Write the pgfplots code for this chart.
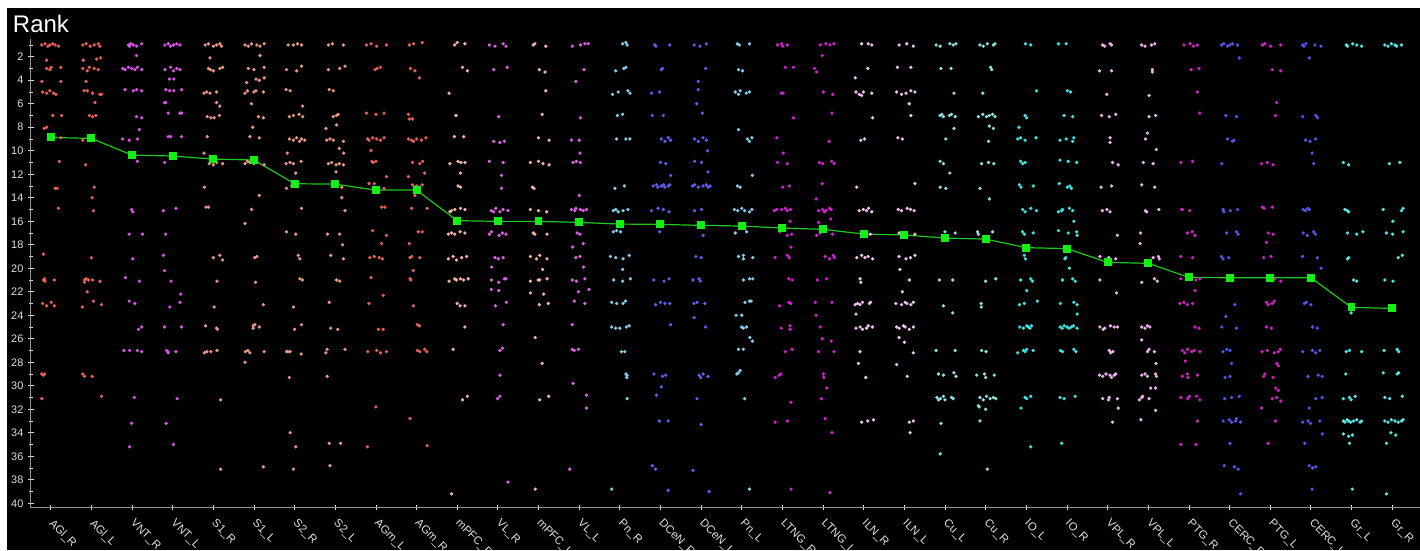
\documentclass[border=0pt]{standalone}
\usepackage{pgfplots}
\pgfplotsset{compat=1.18}
\usepackage{fontspec}
\setmainfont{Liberation Sans}

% region colours
\definecolor{cAGl}{RGB}{235,95,85}
\definecolor{cVNT}{RGB}{225,80,235}
\definecolor{cS}{RGB}{235,150,130}
\definecolor{cAGm}{RGB}{230,95,85}
\definecolor{cmPFC}{RGB}{245,180,165}
\definecolor{cVL}{RGB}{225,95,230}
\definecolor{cPn}{RGB}{130,205,235}
\definecolor{cDCeN}{RGB}{95,95,240}
\definecolor{cLTNG}{RGB}{215,30,215}
\definecolor{cILN}{RGB}{240,190,240}
\definecolor{cCu}{RGB}{140,225,225}
\definecolor{cIO}{RGB}{60,230,230}
\definecolor{cVPL}{RGB}{240,175,240}
\definecolor{cPTG}{RGB}{215,30,200}
\definecolor{cCERC}{RGB}{85,85,240}
\definecolor{cGr}{RGB}{80,230,230}
\definecolor{meanline}{RGB}{30,200,30}
\definecolor{meanmark}{RGB}{20,240,20}
\definecolor{axisgrey}{RGB}{150,150,150}
\definecolor{ticklab}{RGB}{225,225,225}

\pgfplotsset{dot/.style={only marks, mark=*, mark size=1.05pt, mark options={draw=none}}}

\begin{document}
\begin{tikzpicture}
\fill[white] (0,0) rectangle (1065pt,412.5pt);
\fill[black] (5.25pt,0) rectangle (1065pt,406.5pt);
\node[anchor=base west, inner sep=0pt, text=white, font=\fontsize{18}{20}\selectfont] at (9.5pt,388.3pt) {Rank};
\begin{axis}[
  at={(23.25pt,31.725pt)}, anchor=south west,
  scale only axis, width=1041.75pt, height=351.5pt,
  xmin=-0.485, xmax=33.685, ymin=0.494, ymax=40.38,
  y dir=reverse,
  axis x line*=bottom, axis y line*=left,
  axis line style={draw=axisgrey, line width=0.75pt, -},
  xtick={0,...,33},
  xticklabels={AGl\_R,AGl\_L,VNT\_R,VNT\_L,S1\_R,S1\_L,S2\_R,S2\_L,AGm\_L,AGm\_R,mPFC\_R,VL\_R,mPFC\_L,VL\_L,Pn\_R,DCeN\_R,DCeN\_L,Pn\_L,LTNG\_R,LTNG\_L,ILN\_R,ILN\_L,Cu\_L,Cu\_R,IO\_L,IO\_R,VPL\_R,VPL\_L,PTG\_R,CERC\_R,PTG\_L,CERC\_L,Gr\_L,Gr\_R},
  ytick={2,4,...,40}, minor ytick={1,3,...,39},
  tick align=center,
  major tick length=4pt, minor tick length=3pt,
  tick style={draw=ticklab, line width=0.6pt},
  xticklabel style={rotate=-45, anchor=north west, inner sep=0pt, yshift=-2pt, xshift=6pt,
    font=\fontsize{8.5}{10}\selectfont, text=ticklab},
  yticklabel style={anchor=east, inner sep=0pt, xshift=-3.5pt,
    font=\fontsize{8.2}{9}\selectfont, text=ticklab},
  /pgf/number format/assume math mode=true,
  clip=false,
]
% AGl_R
\addplot[dot, color=cAGl] coordinates {(-0.22,1.0)(-0.14,0.9)(-0.07,1.1)(-0.02,1.0)(0.05,0.9)(0.11,1.0)(0.19,1.1)(-0.10,2.3)(-0.10,3.0)(-0.02,3.1)(0.01,2.9)(0.25,2.9)(-0.22,4.1)(0.25,4.1)(-0.20,5.0)(-0.10,5.1)(-0.02,4.9)(0.07,5.1)(0.13,5.2)(0.05,7.0)(0.27,7.0)(-0.16,8.1)(-0.10,8.0)(0.25,8.9)(0.21,10.9)(0.11,13.2)(0.16,13.2)(0.19,14.9)(-0.18,18.8)(-0.18,21.0)(-0.15,20.9)(-0.14,21.1)(0.09,21.0)(-0.20,23.0)(-0.10,23.2)(0.01,22.9)(0.09,23.2)(-0.22,29.0)(-0.18,29.1)(-0.15,29.0)(-0.22,31.1)};
% AGl_L
\addplot[dot, color=cAGl] coordinates {(0.79,1.0)(0.87,0.9)(0.97,1.1)(1.07,1.0)(1.17,0.9)(1.21,1.1)(0.80,2.3)(1.13,2.2)(1.23,2.1)(0.79,3.0)(0.90,3.2)(0.95,2.9)(1.07,3.0)(1.17,3.1)(0.87,4.1)(0.82,4.9)(0.90,4.9)(1.03,5.1)(1.21,5.2)(1.25,5.2)(1.09,5.9)(0.95,7.0)(1.03,7.1)(1.11,7.0)(0.79,9.1)(0.86,11.2)(1.07,13.1)(1.02,14.0)(1.05,15.1)(1.00,19.1)(0.83,21.0)(0.83,21.2)(0.87,20.9)(0.93,21.0)(1.03,21.0)(1.21,21.1)(0.90,22.0)(1.05,22.8)(1.25,23.1)(0.78,23.3)(0.79,29.0)(0.83,29.2)(1.02,29.2)(1.25,30.9)};
% VNT_R
\addplot[dot, color=cVNT] coordinates {(1.91,1.0)(1.94,1.1)(1.97,0.9)(2.03,1.0)(2.11,1.1)(2.24,0.9)(2.11,1.9)(1.77,3.0)(1.83,3.1)(1.91,2.9)(1.99,3.0)(2.07,3.1)(2.13,2.9)(2.24,3.1)(1.83,4.8)(2.03,4.9)(2.11,4.8)(2.24,4.9)(2.11,7.1)(2.24,7.2)(2.18,8.2)(1.77,9.0)(1.93,9.1)(2.13,9.0)(2.13,10.9)(1.99,15.0)(2.02,15.2)(1.93,17.1)(2.26,17.1)(2.02,19.2)(1.84,20.8)(2.18,21.1)(1.93,22.8)(2.07,23.0)(2.16,25.2)(2.24,25.0)(1.80,27.0)(1.94,27.0)(2.13,27.0)(2.24,27.1)(2.06,31.0)(1.99,33.2)(1.94,35.2)};
% VNT_L
\addplot[dot, color=cVNT] coordinates {(2.81,1.0)(2.89,0.9)(2.95,1.1)(3.02,1.0)(3.10,0.9)(3.18,1.0)(2.81,3.1)(2.95,2.9)(3.02,3.2)(3.10,3.0)(3.18,3.1)(2.92,3.9)(3.03,3.9)(2.83,4.8)(2.93,4.9)(3.03,4.9)(3.22,4.8)(2.80,5.9)(2.83,5.9)(2.89,6.8)(3.18,6.8)(3.22,6.8)(2.89,8.8)(2.95,8.8)(3.22,8.8)(2.80,11.0)(2.77,15.1)(3.08,14.9)(2.83,17.1)(2.77,18.9)(2.80,20.2)(2.96,21.1)(3.20,22.2)(3.18,22.9)(2.93,23.3)(2.80,25.0)(3.22,25.0)(2.85,27.0)(2.88,27.1)(2.89,27.2)(3.08,27.1)(3.11,31.1)(2.84,33.2)(3.02,35.0)};
% S1_R
\addplot[dot, color=cS] coordinates {(3.80,1.0)(3.88,0.9)(4.00,1.1)(4.08,1.0)(4.16,0.9)(4.20,1.1)(3.92,2.1)(3.88,3.0)(3.93,3.1)(4.00,3.2)(4.16,3.0)(4.23,2.9)(3.77,5.1)(3.84,5.0)(3.92,5.1)(4.08,5.0)(4.08,5.9)(4.16,6.2)(3.85,7.1)(3.94,7.2)(4.02,7.2)(4.15,7.0)(3.85,8.8)(3.77,10.2)(3.90,11.1)(4.00,11.2)(4.08,11.0)(4.23,11.1)(3.78,13.1)(3.82,14.8)(3.88,14.8)(4.00,19.1)(4.16,18.9)(4.23,19.3)(4.09,21.1)(4.02,23.3)(3.81,24.9)(4.08,25.1)(4.10,25.2)(3.78,27.2)(3.84,27.1)(3.94,27.1)(4.09,27.0)(4.18,31.2)(4.18,37.1)};
% S1_L
\addplot[dot, color=cS] coordinates {(4.78,1.0)(4.86,1.1)(4.94,0.9)(5.07,1.0)(5.15,1.1)(5.25,0.9)(5.15,1.9)(4.86,3.0)(5.00,3.1)(5.25,2.9)(4.82,4.2)(5.05,3.9)(5.13,4.0)(5.25,3.8)(4.78,5.1)(4.84,4.9)(5.00,5.0)(5.05,4.9)(5.23,5.0)(4.94,6.0)(5.11,7.1)(5.23,7.2)(4.97,8.0)(4.90,8.8)(5.13,8.9)(4.78,11.1)(4.84,10.9)(4.90,11.0)(5.00,11.1)(5.07,11.0)(5.25,11.2)(5.13,13.8)(4.94,15.0)(4.78,16.2)(5.02,19.1)(5.07,19.0)(5.04,21.2)(5.23,23.1)(4.98,24.9)(4.98,25.1)(5.02,24.8)(5.13,25.0)(4.79,27.1)(4.85,27.0)(4.90,27.2)(5.25,27.1)(4.78,28.0)(5.23,36.9)};
% S2_R
\addplot[dot, color=cS] coordinates {(5.84,1.0)(5.97,1.0)(6.07,0.9)(6.17,1.0)(5.80,3.1)(6.05,3.2)(6.17,2.8)(5.79,4.8)(5.89,4.9)(6.20,6.2)(5.87,7.1)(5.97,7.0)(6.11,6.9)(6.20,7.1)(5.87,9.0)(5.97,9.1)(6.05,8.9)(6.12,9.2)(6.17,9.0)(6.25,9.1)(5.82,10.2)(5.79,11.1)(5.89,11.0)(5.97,11.1)(6.16,10.9)(6.03,11.9)(5.80,13.2)(5.93,13.0)(6.17,14.9)(5.80,16.9)(6.03,17.1)(6.09,18.9)(6.13,19.2)(6.13,20.9)(6.19,21.0)(5.97,23.3)(6.17,24.8)(6.00,25.2)(5.80,27.1)(5.84,27.1)(5.89,27.1)(6.16,27.3)(5.87,29.3)(5.89,34.0)(6.03,35.2)(5.97,37.1)};
% S2_L
\addplot[dot, color=cS] coordinates {(6.83,1.0)(6.93,0.9)(7.20,1.0)(6.83,3.1)(7.11,3.0)(7.24,2.8)(6.85,4.8)(6.95,4.9)(6.95,7.1)(7.03,7.0)(7.07,6.9)(6.77,8.1)(7.03,7.8)(6.79,9.1)(6.87,9.0)(6.95,9.1)(7.20,9.2)(7.10,9.8)(7.21,10.2)(6.83,11.1)(6.91,11.0)(7.02,11.2)(7.10,11.1)(7.20,11.2)(7.02,11.8)(7.16,13.1)(7.16,14.0)(7.24,15.1)(6.81,17.1)(7.11,17.1)(7.18,18.0)(6.89,18.9)(7.20,19.2)(7.03,21.0)(7.11,21.1)(6.85,22.9)(6.89,25.1)(7.06,25.2)(6.77,27.2)(6.80,26.9)(7.24,26.9)(6.80,29.2)(6.85,34.9)(7.13,34.9)(6.87,36.8)};
% AGm_L
\addplot[dot, color=cAGm] coordinates {(7.77,1.0)(7.88,0.9)(8.02,1.1)(8.26,1.0)(7.98,3.1)(8.03,3.0)(8.11,2.9)(7.77,6.8)(8.00,6.9)(8.20,6.8)(7.80,9.0)(7.83,9.1)(7.92,8.9)(8.02,9.0)(8.11,9.1)(8.20,8.9)(7.88,10.0)(7.90,10.9)(7.93,11.0)(8.00,10.9)(8.26,12.2)(7.83,12.8)(7.96,12.8)(8.20,13.2)(8.14,14.8)(8.22,14.8)(7.92,16.8)(8.26,17.2)(8.14,17.9)(7.85,19.1)(7.96,19.0)(8.08,19.1)(8.16,19.2)(7.88,20.8)(8.18,22.3)(7.83,23.0)(8.06,25.2)(8.18,25.2)(7.80,27.1)(8.02,27.0)(8.11,27.2)(8.26,27.1)(8.00,31.8)(7.79,35.2)};
% AGm_R
\addplot[dot, color=cAGm] coordinates {(8.82,1.0)(8.93,0.9)(9.14,0.8)(8.85,3.0)(8.96,3.2)(9.07,3.8)(8.80,6.9)(8.82,7.3)(8.90,7.3)(8.80,9.0)(8.88,9.1)(8.93,9.2)(9.00,9.0)(9.12,9.1)(9.23,8.9)(8.90,11.0)(9.08,11.1)(9.15,10.9)(9.20,11.9)(8.80,12.2)(8.90,12.9)(9.00,13.0)(9.14,12.9)(8.96,13.8)(8.88,14.9)(9.26,14.9)(9.04,16.9)(9.14,16.9)(8.82,17.9)(8.84,19.1)(8.88,19.0)(9.08,19.1)(8.92,20.2)(8.84,20.9)(8.86,21.0)(8.92,23.2)(9.02,24.8)(9.07,24.9)(9.02,27.0)(9.08,27.1)(9.20,26.9)(9.25,27.1)(8.84,32.8)(9.26,35.1)};
% mPFC_R
\addplot[dot, color=cmPFC] coordinates {(9.94,1.0)(10.00,0.8)(10.19,0.9)(10.13,2.9)(10.25,3.2)(9.80,5.1)(9.97,7.0)(9.93,8.8)(10.16,8.8)(9.82,11.1)(10.02,10.9)(10.09,11.0)(10.19,11.0)(10.08,11.9)(10.02,13.0)(10.08,13.1)(9.86,15.1)(9.94,15.0)(10.08,14.9)(10.19,15.0)(9.82,15.2)(9.78,17.1)(9.86,17.0)(9.94,17.1)(10.07,16.9)(10.19,17.0)(9.78,19.2)(9.90,19.0)(9.98,19.3)(10.11,19.1)(10.23,19.0)(9.80,21.1)(9.94,20.9)(9.98,21.0)(10.08,20.9)(10.16,21.0)(10.27,20.9)(10.00,23.0)(10.07,23.2)(10.19,23.2)(10.19,25.0)(9.90,26.9)(10.13,31.2)(10.25,30.9)(9.86,39.2)};
% VL_R
\addplot[dot, color=cVL] coordinates {(10.79,1.0)(10.93,1.1)(11.13,0.9)(11.20,1.1)(10.90,3.1)(11.23,2.9)(11.02,7.1)(10.90,9.2)(11.05,9.3)(11.16,9.2)(10.79,10.9)(11.13,11.0)(11.09,12.1)(11.09,13.2)(10.84,15.1)(10.90,15.2)(10.95,14.9)(11.05,15.2)(11.13,15.0)(11.25,15.1)(10.79,17.1)(10.84,16.9)(11.03,17.2)(11.11,17.0)(11.20,17.1)(10.93,19.1)(11.01,19.2)(11.13,19.1)(10.85,19.9)(10.84,21.0)(11.02,21.2)(11.16,20.9)(11.20,20.9)(10.84,21.8)(11.02,21.9)(10.94,23.2)(11.21,22.9)(11.13,24.8)(11.05,27.0)(11.11,26.8)(11.05,29.1)(10.99,31.1)(11.05,30.9)(11.25,38.2)};
% mPFC_L
\addplot[dot, color=cmPFC] coordinates {(11.87,1.0)(11.91,0.9)(12.18,1.1)(12.02,3.1)(12.16,3.3)(12.18,4.9)(12.09,6.9)(12.00,8.9)(12.26,9.1)(11.80,11.0)(12.00,10.9)(12.11,11.1)(12.26,11.2)(11.85,13.1)(11.89,13.2)(11.80,15.0)(12.00,15.1)(12.20,15.2)(11.87,17.0)(11.91,17.1)(12.21,17.1)(11.80,19.0)(11.95,19.2)(12.03,18.9)(12.21,19.2)(12.10,20.1)(11.80,21.1)(11.99,21.0)(12.03,21.0)(12.21,20.9)(11.80,22.1)(12.13,22.2)(12.02,23.1)(12.24,23.0)(11.92,25.9)(12.09,28.1)(12.03,31.2)(12.25,30.9)(11.92,38.8)};
% VL_L
\addplot[dot, color=cVL] coordinates {(12.83,1.1)(13.03,1.0)(13.14,0.9)(13.22,0.9)(13.12,3.1)(12.92,4.1)(13.03,7.2)(12.81,9.1)(13.00,9.1)(13.02,10.2)(12.85,11.0)(12.93,10.9)(13.03,11.0)(13.00,13.8)(12.81,15.0)(12.89,15.1)(12.92,14.9)(13.03,15.0)(13.10,15.1)(13.18,15.0)(12.95,17.0)(13.02,17.1)(13.10,17.9)(12.84,18.2)(12.92,19.1)(13.02,19.0)(13.11,19.9)(12.83,21.0)(12.93,21.1)(13.14,20.9)(12.98,22.0)(13.24,21.8)(12.88,22.8)(13.14,23.0)(12.83,24.8)(12.83,26.9)(12.88,27.0)(12.98,26.9)(12.85,29.8)(13.18,30.8)(13.18,31.9)(12.77,37.1)};
% Pn_R
\addplot[dot, color=cPn] coordinates {(14.07,0.9)(14.15,0.8)(14.18,1.0)(13.90,3.2)(14.10,3.0)(14.15,2.9)(13.82,5.2)(13.96,5.0)(14.20,4.9)(14.25,5.1)(13.94,7.0)(14.07,6.9)(13.92,9.0)(14.15,9.0)(14.25,9.0)(13.88,13.2)(14.11,13.0)(13.84,15.1)(13.90,15.0)(13.96,15.2)(14.08,15.1)(14.20,15.0)(13.84,16.9)(13.92,16.8)(14.02,16.9)(13.77,19.0)(13.90,19.1)(14.08,19.2)(14.23,18.9)(14.07,20.1)(13.85,21.0)(14.07,21.1)(14.26,20.9)(13.80,22.9)(13.92,23.0)(14.08,23.0)(14.14,22.8)(13.80,25.0)(13.90,25.1)(14.00,25.1)(14.16,25.0)(14.23,24.9)(14.04,27.1)(14.12,27.1)(14.15,29.0)(14.17,29.3)(14.18,29.1)(14.18,31.1)(13.80,38.8)};
% DCeN_R
\addplot[dot, color=cDCeN] coordinates {(14.86,1.0)(14.89,1.1)(15.23,1.0)(15.02,3.1)(15.05,3.0)(14.78,5.1)(14.98,5.0)(14.80,7.0)(15.07,7.0)(15.02,9.0)(15.11,9.2)(15.19,8.9)(15.25,9.1)(15.00,11.0)(15.13,11.1)(15.25,12.1)(14.82,13.0)(14.90,12.9)(14.94,13.1)(15.02,13.0)(15.08,12.9)(15.11,13.1)(15.19,13.0)(15.23,12.9)(14.78,15.1)(14.94,14.9)(15.07,15.0)(15.21,15.2)(14.98,16.9)(14.84,21.0)(15.09,21.1)(15.21,20.9)(14.88,23.1)(15.00,22.9)(15.11,23.0)(15.23,23.0)(15.25,24.8)(14.84,29.0)(15.05,29.2)(15.13,29.1)(15.02,30.1)(14.90,30.8)(14.97,33.0)(15.19,33.0)(14.80,36.8)(14.88,37.1)(15.19,38.9)};
% DCeN_L
\addplot[dot, color=cDCeN] coordinates {(15.83,1.0)(15.97,1.1)(16.13,0.9)(16.11,3.0)(15.93,4.1)(15.93,4.8)(15.89,6.0)(16.03,6.8)(15.84,9.0)(15.93,9.2)(16.05,8.9)(16.13,9.1)(16.16,10.0)(15.84,10.9)(16.01,11.0)(16.17,11.8)(15.79,13.0)(15.84,12.9)(15.93,13.1)(16.05,13.0)(16.13,12.9)(16.17,13.1)(16.22,13.0)(15.84,15.1)(16.01,15.0)(16.05,17.2)(15.87,19.0)(16.00,19.1)(15.80,21.0)(15.95,20.9)(15.98,21.1)(15.82,23.0)(15.90,22.9)(16.09,23.0)(15.83,24.2)(16.11,25.0)(15.95,29.1)(15.99,29.3)(16.05,29.0)(16.17,29.2)(15.90,31.1)(16.00,33.3)(15.80,37.2)(16.20,39.0)};
% Pn_L
\addplot[dot, color=cPn] coordinates {(16.89,0.9)(16.94,1.0)(17.19,0.9)(16.92,3.1)(17.02,3.2)(16.84,5.0)(16.92,5.2)(16.96,4.9)(17.11,5.1)(17.19,5.0)(16.92,8.2)(17.14,9.0)(17.19,9.2)(17.25,8.9)(17.26,12.1)(16.89,13.0)(16.96,13.1)(16.82,15.0)(16.90,15.1)(17.00,14.9)(17.07,15.1)(17.19,15.2)(17.25,15.0)(16.84,17.0)(17.12,16.9)(16.92,19.0)(17.04,18.9)(17.04,19.2)(17.27,19.1)(17.04,21.0)(17.19,20.9)(17.27,20.9)(17.08,22.9)(17.19,22.8)(17.23,22.8)(16.86,24.0)(17.00,24.0)(17.00,25.0)(17.04,25.1)(17.12,25.0)(17.20,25.9)(17.26,26.2)(16.92,26.9)(17.04,26.9)(16.88,29.0)(16.92,28.9)(16.96,28.7)(17.07,31.1)(17.19,38.8)};
% LTNG_R
\addplot[dot, color=cLTNG] coordinates {(17.88,1.0)(17.98,0.9)(18.01,1.1)(18.12,1.0)(18.07,2.9)(18.27,2.9)(17.97,5.1)(18.02,5.1)(18.27,7.2)(17.86,8.9)(18.02,10.2)(17.88,11.0)(18.12,11.1)(18.01,13.1)(18.17,13.0)(17.80,15.1)(17.86,15.0)(17.98,15.0)(18.07,14.9)(18.12,15.1)(18.20,15.0)(18.19,16.0)(17.94,16.9)(18.12,17.2)(18.23,17.1)(18.21,18.2)(17.82,19.1)(18.12,18.9)(18.17,19.1)(18.16,20.9)(18.24,21.0)(17.93,23.2)(18.16,22.9)(18.21,23.0)(17.97,25.1)(18.19,24.9)(18.19,25.2)(18.07,27.1)(18.24,26.9)(17.82,29.3)(17.92,29.1)(17.96,29.0)(18.21,31.4)(17.82,33.1)(18.12,33.0)(18.21,38.8)};
% LTNG_L
\addplot[dot, color=cLTNG] coordinates {(18.93,1.0)(19.07,0.9)(19.17,1.0)(19.27,0.9)(18.98,1.9)(18.79,3.0)(18.84,3.3)(19.01,5.0)(19.24,5.2)(19.22,6.8)(19.15,9.2)(18.91,11.0)(18.99,11.1)(19.21,10.9)(19.27,11.1)(18.98,12.8)(18.83,14.1)(18.89,15.1)(18.99,15.0)(19.07,15.1)(19.16,14.9)(19.20,15.0)(19.03,15.2)(19.19,15.8)(18.89,16.1)(18.84,17.2)(18.93,17.0)(19.23,17.1)(19.05,19.0)(19.16,19.2)(19.25,18.9)(19.28,19.1)(18.86,21.0)(19.09,20.9)(18.81,22.9)(19.22,22.9)(18.83,24.0)(18.93,25.0)(18.98,26.0)(19.20,26.2)(18.89,27.1)(19.27,27.1)(19.01,29.0)(19.02,29.3)(19.09,30.2)(18.96,31.1)(19.05,32.8)(19.22,34.0)(19.17,39.1)};
% ILN_R
\addplot[dot, color=cILN] coordinates {(19.95,0.9)(20.11,0.9)(20.20,1.0)(20.10,3.0)(19.79,3.8)(19.81,5.0)(19.89,5.2)(19.95,5.3)(19.99,5.0)(20.20,5.1)(20.22,7.2)(19.93,9.1)(20.02,9.0)(19.83,13.1)(19.89,15.1)(19.99,15.0)(20.07,15.1)(20.20,15.2)(20.12,14.9)(20.16,17.1)(19.83,19.1)(19.95,18.9)(20.03,19.1)(20.11,19.0)(20.22,19.2)(19.91,20.9)(19.93,21.2)(19.79,23.1)(19.85,23.0)(19.91,23.1)(19.97,22.9)(20.14,23.0)(20.17,22.9)(19.81,23.9)(19.81,25.1)(19.91,25.0)(19.97,25.2)(20.07,25.1)(20.11,24.9)(20.21,25.0)(19.91,27.1)(19.87,28.1)(20.05,29.3)(19.95,33.1)(20.10,33.0)(20.24,32.9)};
% ILN_L
\addplot[dot, color=cILN] coordinates {(20.87,1.0)(21.06,0.9)(21.22,1.1)(20.83,2.9)(21.16,2.9)(20.81,5.0)(20.93,5.2)(21.04,5.1)(21.16,4.9)(21.26,5.0)(21.12,6.0)(21.16,7.0)(20.84,8.9)(20.95,9.0)(21.26,12.8)(20.85,15.0)(20.93,15.1)(21.07,14.9)(21.15,15.0)(21.24,15.1)(20.87,17.0)(21.26,17.1)(20.87,19.0)(21.04,19.2)(21.15,19.1)(21.26,18.9)(20.89,20.1)(21.12,21.0)(20.95,22.0)(20.79,23.0)(20.93,23.1)(21.02,22.9)(21.06,23.0)(21.16,23.1)(21.22,22.9)(20.81,25.0)(20.87,25.1)(20.98,24.9)(21.02,25.0)(21.12,25.2)(21.22,25.0)(20.87,25.9)(21.00,26.3)(21.22,27.2)(20.81,28.2)(21.07,29.2)(21.12,33.1)(21.22,33.0)(21.14,34.0)};
% Cu_L
\addplot[dot, color=cCu] coordinates {(21.78,1.0)(21.88,1.1)(22.12,0.9)(22.20,1.0)(22.27,0.9)(21.90,3.0)(22.15,3.0)(22.22,5.1)(21.88,7.0)(21.92,6.9)(21.96,7.1)(22.11,7.0)(22.16,6.9)(22.25,7.1)(22.22,8.1)(22.02,9.0)(21.88,10.9)(21.96,11.1)(22.12,11.9)(21.88,13.1)(22.02,13.2)(22.00,16.9)(22.25,17.0)(21.86,21.0)(22.19,21.0)(21.96,23.2)(22.19,23.8)(21.78,27.0)(22.25,27.0)(21.84,29.0)(21.96,29.1)(22.22,28.9)(22.27,29.2)(21.80,31.0)(21.84,31.2)(21.89,31.1)(21.96,30.9)(22.00,31.2)(22.16,31.0)(22.20,31.1)(21.90,33.2)(21.88,35.8)};
% Cu_R
\addplot[dot, color=cCu] coordinates {(22.86,1.0)(22.94,1.1)(23.04,0.9)(23.19,1.0)(23.23,0.9)(23.12,2.9)(23.15,3.1)(22.93,5.1)(22.82,7.1)(22.93,6.9)(23.02,7.1)(23.09,7.0)(23.17,6.9)(23.23,7.1)(23.09,7.9)(23.19,8.1)(23.07,9.2)(22.90,11.1)(23.07,11.0)(23.20,11.1)(22.86,13.2)(23.09,14.1)(22.80,16.9)(22.82,17.1)(23.17,16.9)(23.00,21.1)(23.25,20.9)(22.89,23.0)(22.89,23.3)(22.90,27.0)(23.01,27.1)(22.78,29.1)(22.97,29.0)(23.00,29.3)(23.21,29.1)(22.86,31.0)(22.94,31.2)(23.02,30.9)(23.11,31.1)(23.19,31.0)(23.25,31.1)(22.82,31.7)(22.84,31.8)(23.00,32.0)(22.86,33.0)(23.04,37.1)};
% IO_L
\addplot[dot, color=cIO] coordinates {(23.98,0.9)(24.11,1.0)(24.25,4.9)(23.97,7.0)(24.01,7.2)(23.82,8.0)(23.79,9.0)(23.86,8.9)(23.97,9.1)(24.24,8.9)(23.86,10.9)(23.91,11.1)(23.97,11.0)(23.83,12.9)(23.87,13.1)(24.17,13.0)(23.91,15.0)(23.97,15.2)(24.11,14.9)(24.25,15.1)(23.91,16.9)(23.95,17.1)(24.17,17.0)(23.95,18.9)(23.98,19.2)(23.86,21.0)(24.11,20.9)(24.15,21.1)(24.01,21.9)(23.83,23.1)(23.95,23.0)(24.27,22.8)(23.84,25.0)(23.93,25.1)(24.01,24.9)(24.05,25.0)(24.09,25.1)(24.13,24.9)(23.79,27.2)(23.93,27.0)(23.97,27.1)(24.01,26.9)(24.17,27.0)(23.97,31.0)(24.01,31.1)(24.11,30.9)(23.87,31.9)(24.11,35.2)};
% IO_R
\addplot[dot, color=cIO] coordinates {(24.79,0.9)(24.98,0.9)(25.01,4.9)(25.09,5.0)(24.93,7.0)(25.14,7.1)(24.83,9.1)(24.98,9.0)(25.14,9.2)(25.17,8.9)(24.83,10.8)(25.03,10.9)(25.24,11.0)(24.81,12.8)(25.01,13.1)(25.07,13.0)(25.11,13.2)(24.79,15.2)(24.87,15.1)(24.89,15.0)(25.06,14.9)(25.14,15.1)(25.17,16.0)(24.79,16.8)(25.03,17.0)(25.24,16.9)(25.25,17.2)(24.97,19.1)(24.95,19.2)(25.06,20.0)(24.89,21.0)(25.14,20.9)(25.20,21.1)(24.84,23.0)(25.17,22.9)(25.25,23.1)(25.25,23.9)(24.83,25.0)(24.88,25.1)(24.93,24.9)(25.00,25.0)(25.05,25.1)(25.11,25.0)(25.16,24.9)(25.25,25.1)(24.84,27.0)(24.89,27.1)(25.17,26.9)(25.22,27.1)(24.83,31.0)(24.93,31.1)(25.20,30.9)(24.87,34.9)};
% VPL_R
\addplot[dot, color=cVPL] coordinates {(25.88,1.0)(25.93,1.1)(26.06,0.9)(26.10,1.0)(25.80,3.2)(26.10,3.2)(25.98,5.2)(25.85,7.0)(26.04,7.1)(26.20,6.9)(26.06,8.9)(26.06,9.3)(26.12,11.0)(26.26,11.2)(25.84,13.1)(26.10,13.0)(25.87,15.1)(25.98,15.0)(26.06,15.2)(26.24,17.2)(25.81,19.0)(26.03,19.1)(26.20,19.2)(25.81,21.0)(26.22,22.1)(25.81,25.0)(25.89,25.2)(25.93,25.1)(26.07,24.9)(26.16,25.0)(26.24,25.0)(26.04,27.0)(26.08,27.2)(26.13,27.1)(25.80,29.1)(25.88,29.2)(25.96,29.0)(26.06,29.1)(26.10,29.3)(26.16,29.1)(26.20,29.0)(25.88,31.1)(26.02,31.2)(26.04,31.0)(26.24,31.1)(26.26,31.9)(26.12,33.1)};
% VPL_L
\addplot[dot, color=cVPL] coordinates {(26.84,1.0)(26.92,1.1)(27.08,1.0)(27.16,0.9)(27.10,3.1)(27.10,3.3)(27.02,5.3)(27.02,7.1)(27.18,7.0)(26.98,8.5)(26.93,9.0)(27.20,9.9)(26.88,11.0)(27.12,11.1)(26.84,12.9)(27.16,13.1)(26.93,15.1)(26.96,15.2)(27.26,15.0)(26.81,17.0)(26.80,17.9)(27.12,19.1)(27.25,19.0)(27.27,19.2)(26.84,21.2)(27.15,20.9)(27.22,21.1)(26.84,25.0)(26.92,25.1)(26.98,24.9)(27.04,25.0)(26.84,26.1)(26.98,27.1)(27.02,26.9)(27.15,27.1)(27.19,28.1)(26.84,29.1)(26.92,29.0)(26.98,29.2)(27.18,29.0)(27.20,29.2)(26.86,30.9)(27.06,30.2)(27.18,30.2)(26.78,31.2)(26.84,31.0)(27.02,31.1)(27.18,32.1)(26.82,32.9)};
% PTG_R
\addplot[dot, color=cPTG] coordinates {(27.88,1.0)(28.03,0.9)(28.11,1.1)(28.21,1.0)(28.05,3.1)(28.25,3.0)(28.21,5.0)(28.27,6.8)(27.80,11.0)(28.09,10.9)(27.82,15.0)(27.84,15.0)(28.02,15.1)(27.96,17.0)(28.08,16.9)(28.15,17.2)(27.80,19.0)(28.09,19.1)(27.80,20.9)(28.17,21.0)(28.27,20.9)(28.15,21.9)(27.78,23.0)(27.88,22.9)(27.96,23.1)(28.09,23.0)(28.15,25.0)(28.25,25.1)(27.84,27.0)(27.90,27.2)(27.97,26.9)(28.07,27.1)(28.13,27.0)(28.27,27.1)(27.91,27.9)(27.84,29.2)(27.96,29.0)(27.98,29.3)(28.21,29.1)(28.19,30.9)(27.80,31.0)(27.97,31.1)(28.01,30.9)(28.27,31.2)(28.21,33.0)(27.80,35.0)(28.17,35.0)};
% CERC_R
\addplot[dot, color=cCERC] coordinates {(28.80,1.0)(28.86,0.9)(28.95,1.1)(29.01,1.0)(29.07,0.9)(29.20,1.0)(29.24,2.1)(28.91,7.0)(29.17,7.1)(28.95,9.0)(29.07,9.2)(29.11,9.1)(28.81,11.1)(28.84,15.0)(28.86,15.2)(29.02,15.1)(29.20,15.0)(28.93,17.0)(29.17,16.9)(29.21,17.1)(28.80,19.0)(28.84,19.2)(28.98,19.1)(29.13,23.1)(28.91,24.1)(28.81,25.0)(29.17,25.1)(28.84,27.1)(28.93,26.9)(29.01,27.0)(29.05,28.1)(28.89,29.3)(29.01,29.2)(28.88,31.1)(29.05,31.0)(29.24,30.9)(28.84,33.0)(28.99,32.9)(29.05,33.1)(29.15,33.0)(29.17,32.8)(29.27,33.1)(29.01,34.9)(28.87,36.8)(29.12,36.9)(29.21,37.1)(29.27,39.2)};
% PTG_L
\addplot[dot, color=cPTG] coordinates {(29.81,1.0)(29.87,0.9)(30.01,1.1)(30.26,1.0)(30.05,3.1)(30.26,3.2)(30.16,5.9)(30.13,7.0)(29.79,11.1)(29.93,11.0)(30.07,11.2)(29.81,14.8)(29.85,14.9)(30.05,14.8)(29.95,17.0)(30.07,17.1)(29.91,17.8)(29.84,19.1)(30.02,19.0)(29.97,21.0)(30.11,20.9)(30.26,21.1)(29.91,22.9)(29.95,23.1)(30.05,23.0)(30.10,22.8)(29.91,25.0)(30.03,25.1)(29.80,27.1)(29.93,27.0)(30.10,27.2)(30.20,27.1)(30.25,26.9)(30.16,28.1)(30.20,28.3)(29.84,29.2)(29.87,29.0)(30.07,29.3)(30.14,30.2)(30.20,30.4)(30.05,31.1)(30.16,31.0)(30.26,31.3)(29.79,31.9)(30.13,33.0)(29.95,34.9)};
% CERC_L
\addplot[dot, color=cCERC] coordinates {(30.80,1.0)(30.83,1.1)(30.88,0.9)(31.10,1.0)(31.25,1.1)(30.96,2.1)(30.80,7.1)(31.12,7.0)(31.16,7.2)(30.87,9.1)(30.98,9.2)(31.12,9.0)(31.03,10.2)(31.07,11.1)(30.81,15.0)(30.87,15.1)(30.92,14.9)(30.96,15.0)(30.81,17.0)(30.91,17.2)(31.07,16.9)(31.11,17.1)(30.80,19.0)(31.16,19.1)(31.25,20.0)(30.84,23.0)(30.89,22.9)(31.00,23.1)(31.04,25.0)(31.16,25.1)(30.80,27.1)(31.04,27.0)(31.12,27.2)(31.22,27.0)(30.93,29.2)(31.18,29.1)(31.28,29.2)(31.12,31.1)(31.28,31.0)(30.96,31.9)(30.80,33.1)(30.93,33.0)(30.99,33.2)(31.22,33.0)(31.28,34.1)(30.85,34.9)(30.96,36.8)(31.04,37.0)(31.12,36.9)(31.03,38.8)};
% Gr_L
\addplot[dot, color=cGr] coordinates {(31.87,1.0)(31.90,1.1)(32.03,0.9)(32.13,1.0)(32.25,1.1)(31.80,11.0)(31.93,11.2)(31.84,15.0)(31.90,15.1)(31.93,15.2)(31.90,17.0)(32.13,17.1)(32.28,16.9)(31.90,19.2)(31.93,19.1)(32.05,21.0)(32.13,21.1)(31.99,23.8)(31.87,27.1)(31.95,27.0)(32.25,27.1)(31.86,29.0)(32.09,30.9)(31.80,31.1)(31.95,31.0)(31.99,31.2)(31.80,33.0)(31.84,33.1)(31.89,32.9)(31.93,33.0)(31.98,33.1)(32.05,33.0)(32.13,32.9)(32.21,33.1)(32.25,33.0)(31.80,34.1)(31.93,34.3)(32.02,34.2)(31.95,34.9)(32.02,38.8)};
% Gr_R
\addplot[dot, color=cGr] coordinates {(32.82,1.0)(32.90,1.1)(32.98,0.9)(33.07,1.0)(33.11,1.1)(33.23,1.0)(32.93,11.1)(33.19,11.0)(32.78,15.0)(33.23,15.1)(33.27,14.9)(33.02,16.0)(32.86,17.0)(33.01,17.1)(33.27,16.9)(33.15,19.1)(33.25,18.9)(32.82,21.0)(33.02,21.1)(32.80,27.0)(33.12,26.9)(33.16,27.1)(32.78,28.9)(33.12,29.0)(33.16,28.9)(32.82,31.0)(32.94,31.1)(33.25,30.9)(32.82,33.0)(32.90,33.1)(32.98,32.9)(33.07,33.0)(33.15,33.1)(33.23,33.0)(33.27,32.9)(32.97,34.0)(33.09,34.2)(32.86,34.9)(32.86,39.2)};
% mean rank per region
\addplot[color=meanline, line width=0.9pt, mark=square*, mark size=2.6pt,
  mark options={fill=meanmark, draw=meanmark, line width=0pt}] coordinates {
  (0,8.87)(1,8.95)(2,10.37)(3,10.45)(4,10.71)(5,10.79)(6,12.81)(7,12.84)
  (8,13.35)(9,13.35)(10,15.95)(11,16.01)(12,16.01)(13,16.10)(14,16.24)(15,16.27)
  (16,16.35)(17,16.41)(18,16.58)(19,16.69)(20,17.09)(21,17.17)(22,17.43)(23,17.52)
  (24,18.25)(25,18.33)(26,19.50)(27,19.58)(28,20.78)(29,20.81)(30,20.81)(31,20.81)
  (32,23.33)(33,23.42)};
\end{axis}
\pgfresetboundingbox
\path[use as bounding box] (0,0) rectangle (1065pt,412.5pt);
\end{tikzpicture}
\end{document}
